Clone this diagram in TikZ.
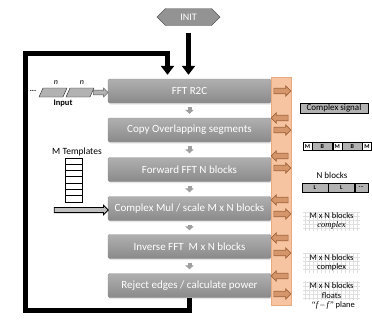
\documentclass[tikz,border=0pt]{standalone}
\usepackage{fontspec}
\setmainfont{Carlito}
\newfontfamily\slfont{Liberation Serif}
\usetikzlibrary{arrows.meta, positioning, shapes.arrows, shapes.symbols, shadows}
\definecolor{barfill}{RGB}{246,196,160}
\definecolor{baredge}{RGB}{232,170,128}
\definecolor{tipfill}{RGB}{212,150,106}
\definecolor{tipedge}{RGB}{160,100,62}

\begin{document}
\begin{tikzpicture}[x=1pt,y=-1pt,inner sep=0pt]
      \tikzset{stagebox/.style={rounded corners=1.5pt, top color=gray!62, bottom color=gray!92, draw=gray!85,
          minimum width=163pt, minimum height=24pt, text=white, font=\fontsize{11}{13}\selectfont,
          drop shadow={opacity=0.2, shadow xshift=1pt, shadow yshift=-1.5pt}},
        feedback/.style={line width=5pt, -{Triangle[length=9pt,width=13pt]}},
        stepdown/.style={gray!75, line width=4pt, shorten <=4pt, shorten >=4pt, -{Triangle[length=4pt,width=8.5pt]}},
        outarrow/.style={single arrow, draw=tipedge, line width=0.7pt, fill=tipfill, inner sep=2.4pt,
          minimum height=17pt, single arrow head extend=2.4pt},
        inarrow/.style={outarrow, shape border rotate=180},
        fatarrow/.style={single arrow, inner sep=2.2pt, single arrow head extend=2.2pt},
        segcell/.style={draw=gray!30!black, fill=gray!60, xslant=0.45, minimum width=24pt, minimum height=9pt},
        tcell/.style={draw, line width=1pt, fill=white, minimum width=17pt, minimum height=6.3pt},
        mcell/.style={draw, fill=white, minimum width=9pt, minimum height=8pt, font=\fontsize{6}{6}\bfseries},
        bcell/.style={mcell, fill=gray!60, minimum width=20pt},
        lcell/.style={draw, fill=gray!60, minimum width=26pt, minimum height=9pt, font=\fontsize{6}{6}\bfseries},
        gridbox/.style={minimum width=57pt, align=center, font=\fontsize{8.5}{9.5}\selectfont,
          path picture={\draw[gray!25, step=4pt] (path picture bounding box.south west) grid (path picture bounding box.north east);}}}
      \useasboundingbox (0,0) rectangle (372,322);
      % processing chain
      \node[signal, signal to=west and east, draw=gray!70!black, fill=gray!85, text=white,
        minimum width=63pt, minimum height=17pt, font=\fontsize{10}{11}\selectfont] (init) at (188.5,17) {INIT};
      \node[stagebox] (s1) at (189.5,91) {FFT R2C};
      \node[stagebox] (s2) at (189.5,130) {Copy Overlapping segments};
      \node[stagebox] (s3) at (189.5,169.5) {Forward FFT N blocks};
      \node[stagebox] (s4) at (189.5,208.5) {Complex Mul / scale M x N blocks};
      \node[stagebox] (s5) at (189.5,246.5) {Inverse FFT \ M x N blocks};
      \node[stagebox] (s6) at (189.5,285.5) {Reject edges / calculate power};
      \foreach \a/\b in {s1/s2,s2/s3,s3/s4,s4/s5,s5/s6}
        \draw[stepdown] (\a.south) -- (\b.north);
      \draw[feedback, shorten <=7pt, shorten >=4pt] (init.south) -- (init.south |- s1.north);
      \draw[feedback, shorten >=4pt] (s6.south) -- ++(0,12.5) -| (25,53) -| ([xshift=-22pt]s1.north);
      % memory bar
      \node[draw=baredge, fill=barfill, minimum width=20pt, minimum height=228pt] (bar) at (281,191) {};
      \node[outarrow] (o1) at (281,91) {};
      \node[inarrow] (i2) at (281,118) {};
      \node[outarrow] (o2) at (281,130) {};
      \node[inarrow] (i3) at (281,156) {};
      \node[outarrow] (o3) at (281,168) {};
      \node[inarrow] (i4) at (281,200) {};
      \node[outarrow] (o4) at (281,214) {};
      \node[inarrow] (i5) at (281,238) {};
      \node[outarrow] (o5) at (281,253) {};
      \node[inarrow] (i6) at (281,276) {};
      \node[outarrow] (o6) at (281,294) {};
      % input stream
      \node[font=\fontsize{8}{8}\bfseries] (dots) at (33,91) {...};
      \node[segcell] (n1) at (53,92.5) {};
      \node[segcell] (n2) at (80,92.5) {};
      \node[font=\fontsize{8}{8}\itshape] (n1l) at (56,83) {n};
      \node[font=\fontsize{8}{8}\itshape] (n2l) at (82,83) {n};
      \node[font=\fontsize{8.5}{9}\bfseries] (inp) at (63,103) {Input};
      \node[fatarrow, draw=gray!60!black, fill=gray!60, minimum height=15pt] (ia) at (99.5,92.5) {};
      % templates
      \node[font=\fontsize{9.5}{10}\selectfont] (mt) at (77,152) {M Templates};
      \foreach \k in {1,...,7}
        \node[tcell] (t\k) at (73.5,154.9+\k*6.3) {};
      \node[fatarrow, draw, line width=0.8pt, fill=gray!50, minimum height=54pt] (ta) at (80,210) {};
      % data layouts
      \node[draw, fill=gray!60, minimum width=68pt, minimum height=10pt, font=\fontsize{9}{10}\selectfont] (cs) at (334,108) {Complex signal};
      \node[mcell] (m1) at (307.5,146.5) {M};
      \node[bcell, right=0pt of m1] (b1) {B};
      \node[mcell, right=0pt of b1] (m2) {M};
      \node[bcell, right=0pt of m2] (b2) {B};
      \node[mcell, right=0pt of b2] (m3) {M};
      \node[font=\fontsize{9}{10}\selectfont] (nb) at (332,175) {N blocks};
      \node[lcell] (l1) at (315,187.5) {L};
      \node[lcell, right=0pt of l1] (l2) {L};
      \node[lcell, minimum width=13pt, right=0pt of l2] (l3) {...};
      \node[gridbox, minimum height=19pt] (g1) at (331.5,221) {M x N blocks\\{\slfont\itshape complex}};
      \node[gridbox, minimum height=20pt] (g2) at (331.5,262.5) {M x N blocks\\complex};
      \node[gridbox, minimum height=19pt] (g3) at (331.5,290.5) {M x N blocks\\floats};
      \node[font=\fontsize{8.5}{9.5}\selectfont] (pl) at (333,305.5) {{\slfont\itshape “f – f”} plane};
\end{tikzpicture}
\end{document}
